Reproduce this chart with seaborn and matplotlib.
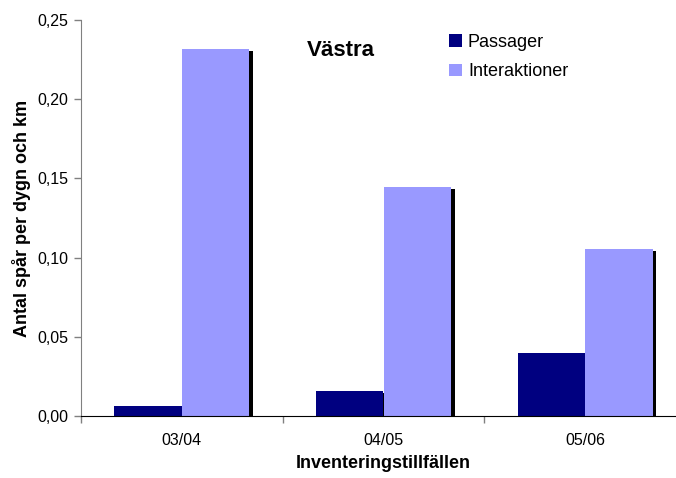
import pandas as pd
import seaborn as sns
import matplotlib.pyplot as plt
from matplotlib import patheffects
from matplotlib.ticker import FuncFormatter

categories = ["03/04", "04/05", "05/06"]
passager = [0.0063, 0.0158, 0.0399]
interaktioner = [0.2317, 0.1447, 0.1055]
series = ["Passager", "Interaktioner"]
colors = ["#000080", "#9999FF"]

df = pd.DataFrame({
    "Inventering": categories * 2,
    "Serie": [series[0]] * 3 + [series[1]] * 3,
    "Värde": passager + interaktioner,
})

sns.set_style("ticks")
plt.rcParams["font.family"] = ["Liberation Sans", "DejaVu Sans"]
plt.rcParams["text.color"] = "black"
plt.rcParams["axes.labelcolor"] = "black"
plt.rcParams["xtick.labelcolor"] = "black"
plt.rcParams["ytick.labelcolor"] = "black"

W, H = 676, 478
fig = plt.figure(figsize=(W / 100, H / 100), dpi=100)
ax = fig.add_axes([81 / W, 62 / H, 605 / W, 396 / H])

sns.barplot(data=df, x="Inventering", y="Värde", hue="Serie", palette=colors,
            width=0.67, gap=0, saturation=1, ax=ax, legend=True)

# Excel-style drop shadow on the bars
for p in ax.patches:
    p.set_linewidth(0)
    p.set_path_effects([
        patheffects.SimplePatchShadow(offset=(2.6, -1.5), shadow_rgbFace="black", alpha=1),
        patheffects.Normal(),
    ])

ax.set_ylim(0, 0.25)
ax.set_xlim(-0.5, 2.5)
ax.set_yticks([0, 0.05, 0.10, 0.15, 0.20, 0.25])
ax.yaxis.set_major_formatter(FuncFormatter(lambda v, _: f"{v:.2f}".replace(".", ",")))
ax.set_xticks([-0.5, 0.5, 1.5, 2.5], minor=True)

ax.tick_params(axis="y", length=5, width=1, color="#808080", pad=4, labelsize=11.5,
               labelcolor="black")
ax.tick_params(axis="x", which="major", length=0, pad=12, labelsize=11.5,
               labelcolor="black")
ax.tick_params(axis="x", which="minor", length=5, width=1, color="#808080")

for s in ["top", "right"]:
    ax.spines[s].set_visible(False)
ax.spines["left"].set_color("#808080")
ax.spines["bottom"].set_color("black")

ax.set_ylabel("Antal spår per dygn och km", fontsize=13, fontweight="bold",
              labelpad=5, color="black")
ax.set_xlabel("Inventeringstillfällen", fontsize=13, fontweight="bold",
              labelpad=5, color="black")

fig.text(341 / W, 1 - 50 / H, "Västra", fontsize=16, fontweight="bold",
         ha="center", va="center", color="black")

handles, labels = ax.get_legend_handles_labels()
for h in handles:
    h.set_path_effects([])
ax.legend(handles, labels, loc="upper left", bbox_to_anchor=(449 / W, 1 - 34 / H),
          bbox_transform=fig.transFigure, frameon=False, fontsize=13,
          handlelength=0.7, handleheight=0.7, handletextpad=0.35,
          labelspacing=0.68, borderpad=0, borderaxespad=0, labelcolor="black")

fig.savefig("out.png", dpi=100)
